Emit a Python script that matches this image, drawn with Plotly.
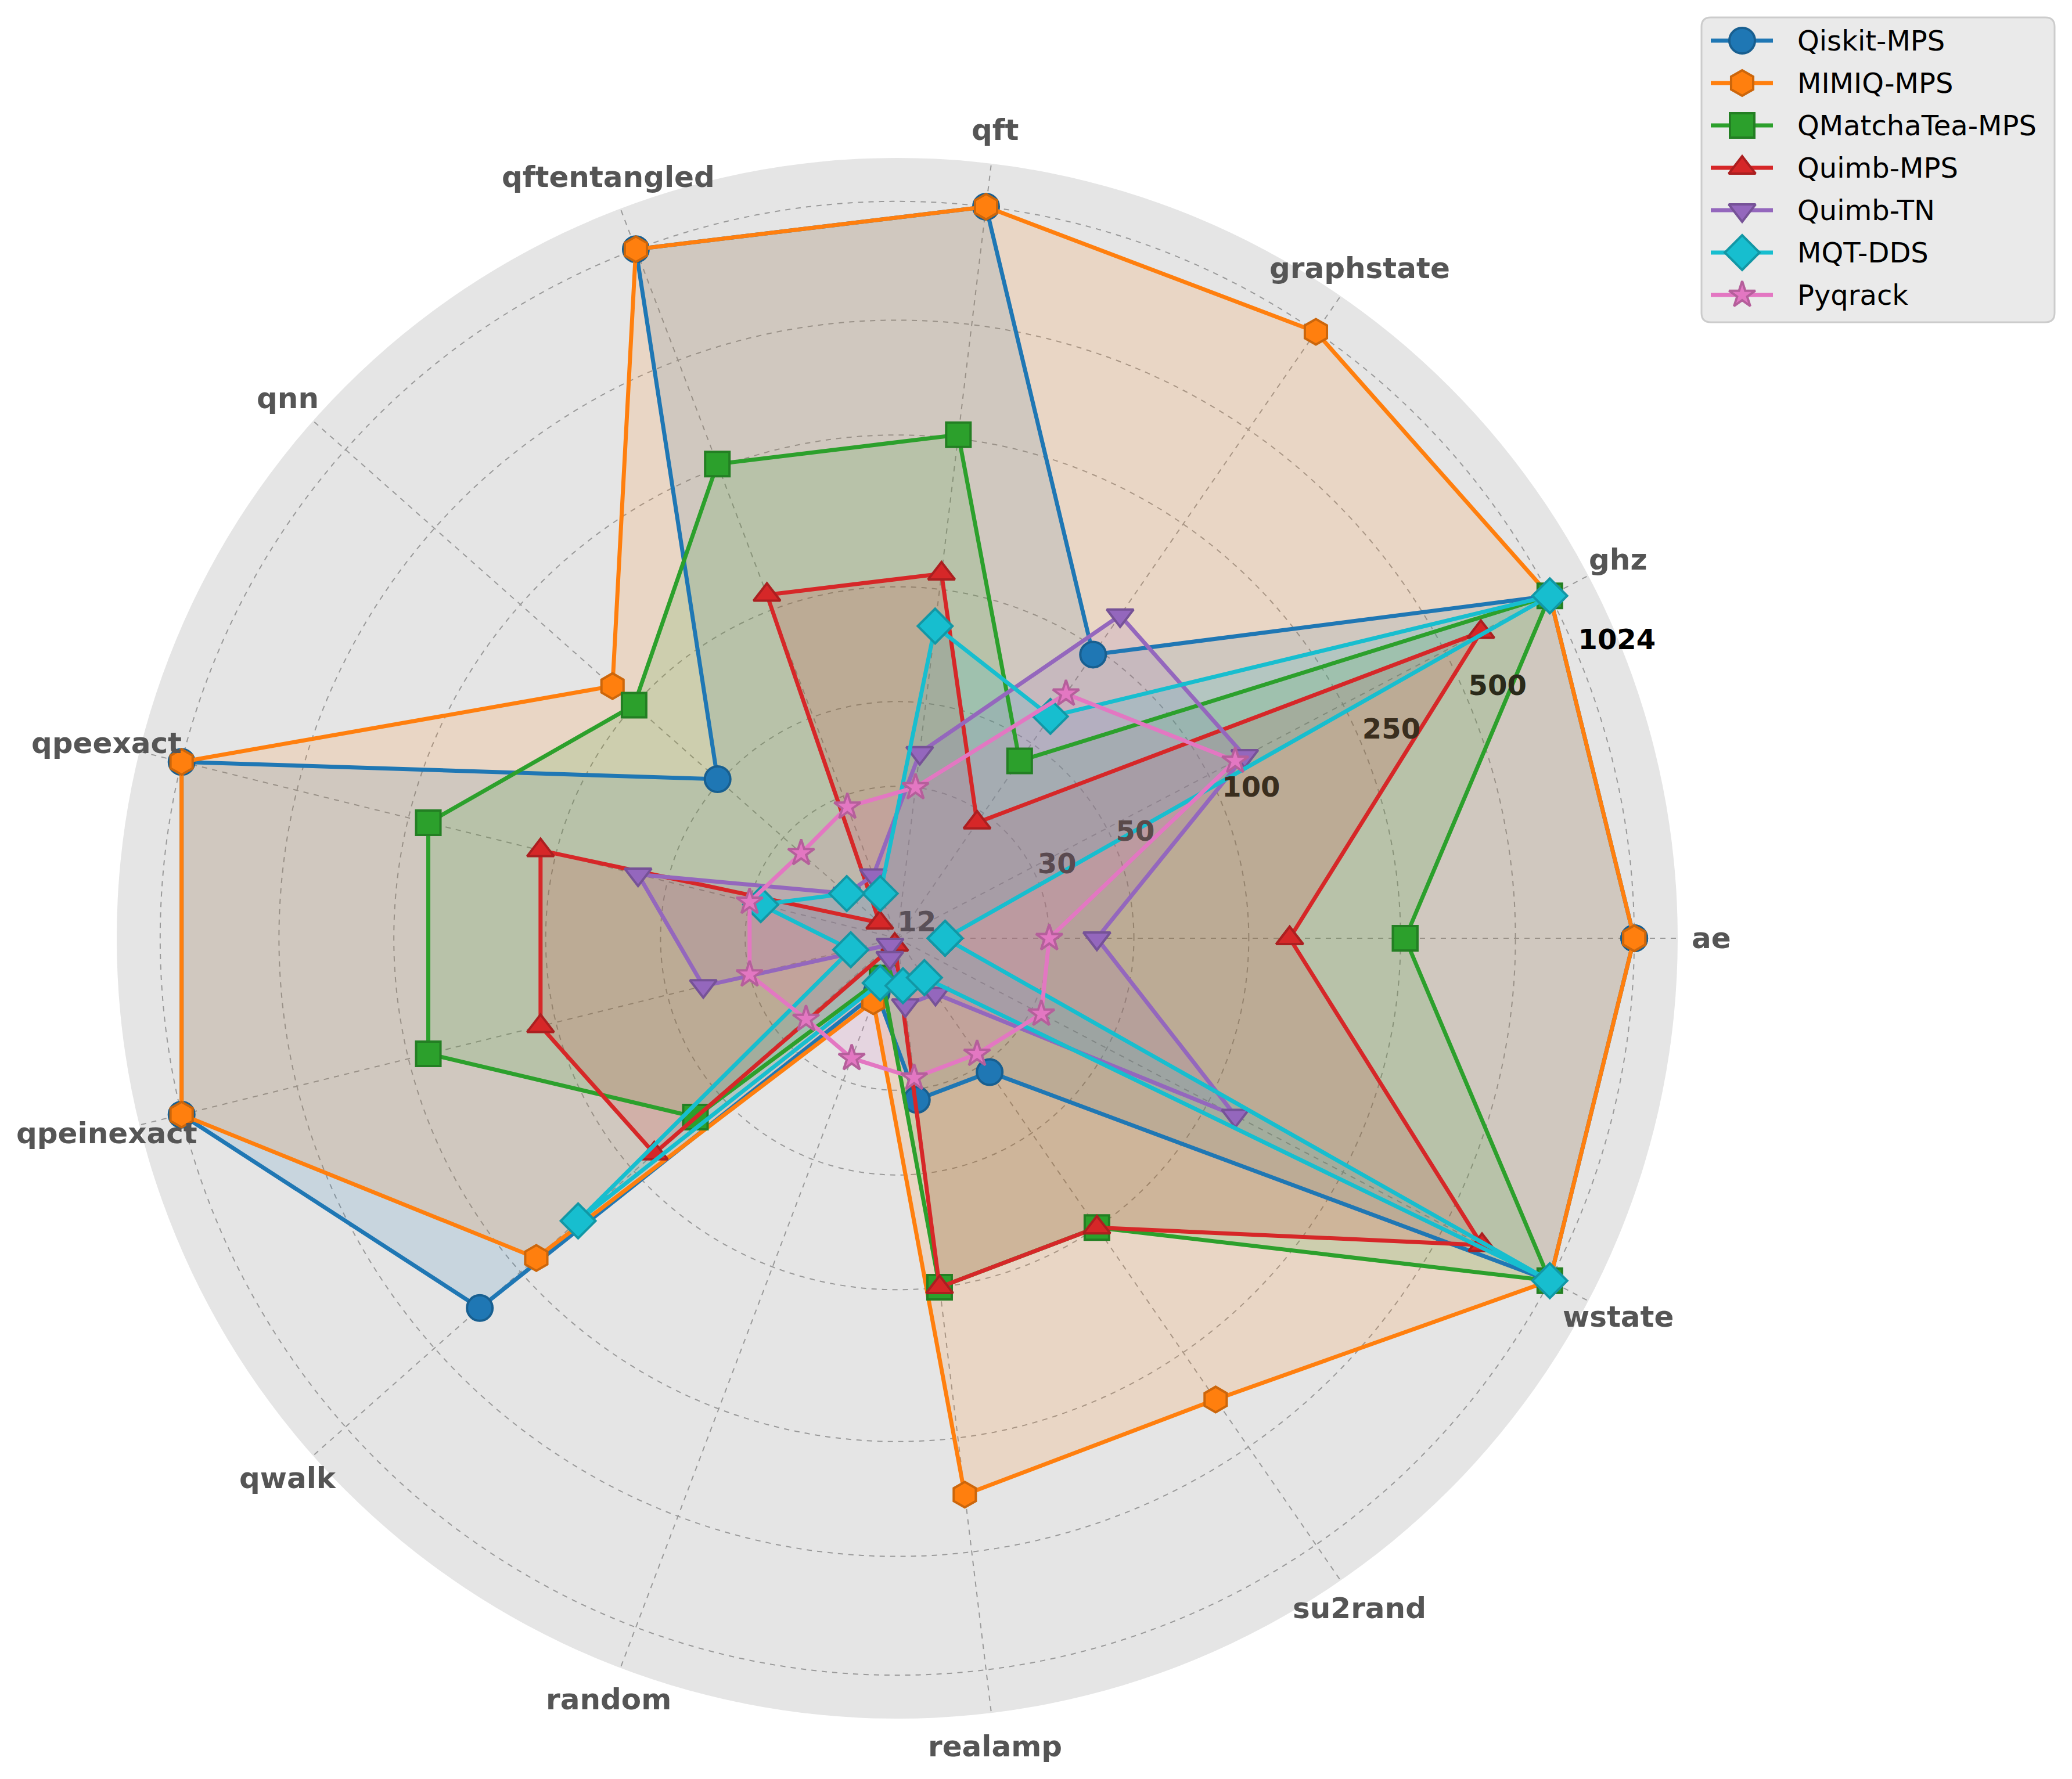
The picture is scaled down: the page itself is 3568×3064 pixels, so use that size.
import math
import plotly.graph_objects as go

categories = ["ae", "ghz", "graphstate", "qft", "qftentangled", "qnn", "qpeexact",
              "qpeinexact", "qwalk", "random", "realamp", "su2rand", "wstate"]

qiskit_mps = [1024, 1024, 96, 1024, 1024, 51, 1024, 1024, 347, 17, 32, 32, 1024]
mimiq_mps = [1024, 1024, 1024, 1024, 1024, 119, 1024, 1024, 220, 18, 353, 353, 1024]
qmatchatea_mps = [257, 1024, 44, 256, 256, 100, 221, 221, 61, 15.5, 100, 100, 1024]
quimb_mps = [128, 640, 28, 110, 110, 13.8, 110, 110, 85, 12.5, 100, 100, 645]
quimb_tn = [40, 128, 128, 37, 18, 18, 60, 40, 12.7, 13.6, 18, 18, 120]
mqt_dds = [16, 1024, 61, 80, 16, 18, 28, 16, 157, 16, 16, 16, 1024]
pyqrack = [30, 120, 72, 30, 28, 26, 30, 30, 25, 26, 28, 28, 32]

series_names = ["Qiskit-MPS", "MIMIQ-MPS", "QMatchaTea-MPS", "Quimb-MPS",
                "Quimb-TN", "MQT-DDS", "Pyqrack"]
series_values = [qiskit_mps, mimiq_mps, qmatchatea_mps, quimb_mps,
                 quimb_tn, mqt_dds, pyqrack]

radial_ticks = [12, 30, 50, 100, 250, 500, 1024]
radial_min = 12
radial_max = 1331

# ---- styling ----
colors = ["#1f77b4", "#ff7f0e", "#2ca02c", "#d62728", "#9467bd", "#17becf", "#e377c2"]
edge_colors = ["#185f90", "#cc660b", "#237f23", "#ab1f20", "#765297", "#1297a5", "#b55f9b"]
fill_colors = ["rgba(31,119,180,0.15)", "rgba(255,127,14,0.15)", "rgba(44,160,44,0.15)",
               "rgba(214,39,40,0.15)", "rgba(148,103,189,0.15)", "rgba(23,190,207,0.15)",
               "rgba(227,119,194,0.15)"]
symbols = ["circle", "hexagon", "square", "triangle-up", "triangle-down", "diamond", "star"]
sizes = [44, 44, 42, 40, 40, 46, 34]
# radial label colours (tinted as if seen through the translucent fills)
rlabel_colors = ["#5a5058", "#5a4a50", "#5a4a4a", "#3a2e1e", "#3a2e1e", "#2a2a1a", "#000000"]

W, H = 3568, 3064
n = len(categories)
angles = [i * 360.0 / n for i in range(n)]
rlabel_angle = 22.5     # angle of radial tick labels

# polar disc geometry in pixels
disc_r = 1344
cx, cy = 1545, 1616
dom_x = [(cx - disc_r) / W, (cx + disc_r) / W]
dom_y = [(H - cy - disc_r) / H, (H - cy + disc_r) / H]
label_dist = 1402       # pixel distance of category labels from centre

fig = go.Figure()

# translucent fills first
for vals, fc in zip(series_values, fill_colors):
    fig.add_trace(go.Scatterpolar(
        r=vals + vals[:1], theta=angles + [360.0],
        mode="lines", fill="toself", fillcolor=fc,
        line=dict(color="rgba(0,0,0,0)", width=0),
        showlegend=False, hoverinfo="skip",
    ))

# lines and markers on top
for name, vals, c, ec, sym, sz in zip(series_names, series_values, colors,
                                      edge_colors, symbols, sizes):
    fig.add_trace(go.Scatterpolar(
        r=vals + vals[:1],
        theta=angles + [360.0],
        mode="lines+markers",
        name=name,
        line=dict(color=c, width=7),
        marker=dict(symbol=sym, size=sz, color=c, line=dict(color=ec, width=4)),
        showlegend=False,
    ))

# radial tick labels
fig.add_trace(go.Scatterpolar(
    r=radial_ticks, theta=[rlabel_angle] * len(radial_ticks),
    mode="text", text=[str(t) for t in radial_ticks],
    textfont=dict(family="DejaVu Sans", size=48, color=rlabel_colors, weight="bold"),
    textposition="top right", showlegend=False, hoverinfo="skip", cliponaxis=False,
))

# category labels just outside the disc
for cat, a in zip(categories, angles):
    fig.add_annotation(
        x=cx + label_dist * math.cos(math.radians(a)),
        y=cy - label_dist * math.sin(math.radians(a)),
        xref="x", yref="y", text=f"<b>{cat}</b>", showarrow=False,
        xanchor="center", yanchor="middle",
        font=dict(family="DejaVu Sans", size=50, color="#555555"),
    )

# ---- custom legend (pixel coordinates on an invisible overlay axis) ----
lx0, lx1, ly0, ly1, rad = 2930, 3538, 30, 555, 16
row_y0, row_step = 70, 73
seg_x0, seg_x1, mark_x, text_x = 2946, 3053, 3000, 3093
for i, (name, c, ec, sym, sz) in enumerate(zip(series_names, colors, edge_colors, symbols, sizes)):
    yy = row_y0 + i * row_step
    fig.add_trace(go.Scatter(
        x=[seg_x0, mark_x, seg_x1], y=[yy, yy, yy], mode="lines",
        line=dict(color=c, width=7), showlegend=False, hoverinfo="skip",
        xaxis="x", yaxis="y",
    ))
    fig.add_trace(go.Scatter(
        x=[mark_x], y=[yy], mode="markers",
        marker=dict(symbol=sym, size=sz, color=c, line=dict(color=ec, width=4)),
        showlegend=False, hoverinfo="skip", xaxis="x", yaxis="y",
    ))
    fig.add_annotation(
        x=text_x, y=yy, xref="x", yref="y", text=name, showarrow=False,
        xanchor="left", yanchor="middle",
        font=dict(family="DejaVu Sans", size=48, color="black"),
    )

box_path = (f"M {lx0+rad},{ly0} L {lx1-rad},{ly0} Q {lx1},{ly0} {lx1},{ly0+rad} "
            f"L {lx1},{ly1-rad} Q {lx1},{ly1} {lx1-rad},{ly1} L {lx0+rad},{ly1} "
            f"Q {lx0},{ly1} {lx0},{ly1-rad} L {lx0},{ly0+rad} Q {lx0},{ly0} {lx0+rad},{ly0} Z")
fig.add_shape(type="path", path=box_path, xref="x", yref="y",
              fillcolor="#EAEAEA", line=dict(color="#CCCCCC", width=3), layer="below")

fig.update_layout(
    width=W,
    height=H,
    margin=dict(l=0, r=0, t=0, b=0),
    paper_bgcolor="white",
    plot_bgcolor="rgba(0,0,0,0)",
    font=dict(family="DejaVu Sans", size=48, color="#555555"),
    showlegend=False,
    xaxis=dict(range=[0, W], domain=[0, 1], visible=False, fixedrange=True),
    yaxis=dict(range=[H, 0], domain=[0, 1], visible=False, fixedrange=True),
    polar=dict(
        domain=dict(x=dom_x, y=dom_y),
        bgcolor="#E5E5E5",
        angularaxis=dict(
            type="linear",
            thetaunit="degrees",
            tickmode="array",
            tickvals=angles,
            showticklabels=False,
            rotation=0,
            direction="counterclockwise",
            showline=False,
            ticks="",
            gridcolor="#9a9a9a",
            griddash="dash",
            gridwidth=2,
            layer="below traces",
        ),
        radialaxis=dict(
            type="log",
            # tiny margin below 12 so the centre tick label is not dropped
            range=[math.log10(radial_min) - 0.0005, math.log10(radial_max)],
            tickvals=radial_ticks,
            showticklabels=False,
            angle=rlabel_angle,
            showline=False,
            ticks="",
            gridcolor="#9a9a9a",
            griddash="dash",
            gridwidth=2,
            layer="below traces",
        ),
    ),
)

fig.write_html("out.html")
